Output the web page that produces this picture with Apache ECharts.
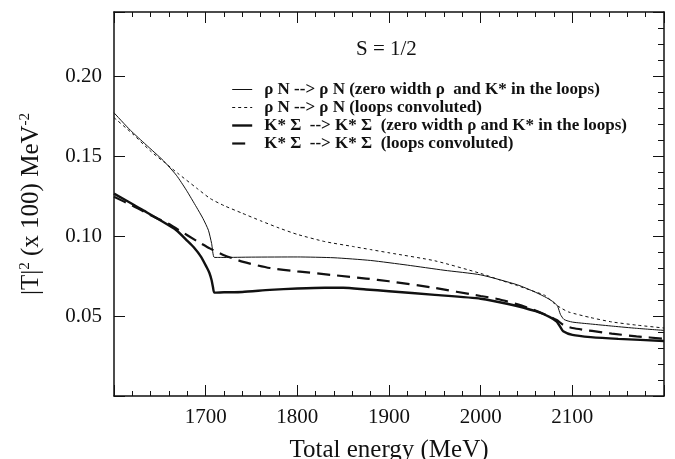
<!DOCTYPE html>
<html>
<head>
<meta charset="utf-8">
<script src="https://cdn.jsdelivr.net/npm/echarts@6/dist/echarts.min.js"></script>
<style>
html, body { margin: 0; padding: 0; background: #fff; }
#chart { width: 675px; height: 459px; }
</style>
</head>
<body>
<div id="chart"></div>
<script>
// rho N --> rho N, zero width
var rhoZeroE = [1600, 1618, 1635, 1654, 1668, 1679, 1690, 1697, 1703, 1706.5, 1709.5, 1720, 1750, 1800, 1840, 1880, 1920, 1960, 2000, 2040, 2060, 2072, 2080, 2084, 2087, 2091, 2100, 2120, 2145, 2170, 2200];
var rhoZeroV = [0.177, 0.166, 0.157, 0.147, 0.138, 0.1286, 0.118, 0.111, 0.1036, 0.0953, 0.0866, 0.0866, 0.0868, 0.0869, 0.0864, 0.0847, 0.0818, 0.0786, 0.0757, 0.0695, 0.0648, 0.0614, 0.0585, 0.0560, 0.0510, 0.0478, 0.0462, 0.0450, 0.0436, 0.0423, 0.0410];

// rho N --> rho N, loops convoluted
var rhoConvE = [1600, 1620, 1640, 1655, 1670, 1690, 1705, 1720, 1740, 1760, 1780, 1800, 1830, 1860, 1880, 1900, 1950, 2000, 2020, 2040, 2060, 2070, 2080, 2087, 2096, 2120, 2143, 2170, 2200];
var rhoConvV = [0.174, 0.164, 0.153, 0.146, 0.139, 0.130, 0.1234, 0.119, 0.1142, 0.1095, 0.105, 0.101, 0.0965, 0.0935, 0.0915, 0.0895, 0.0845, 0.0766, 0.0727, 0.069, 0.065, 0.0629, 0.058, 0.0552, 0.0525, 0.049, 0.0463, 0.0443, 0.0425];

// K* Sigma --> K* Sigma, zero width
var ksZeroE = [1600, 1620, 1632, 1650, 1668, 1680, 1687, 1695, 1701, 1704, 1706.5, 1708, 1709.5, 1720, 1740, 1770, 1800, 1830, 1850, 1875, 1900, 1950, 2000, 2030, 2060, 2075, 2083, 2087, 2090, 2100, 2120, 2150, 2200];
var ksZeroV = [0.1265, 0.120, 0.116, 0.110, 0.1036, 0.097, 0.093, 0.087, 0.0806, 0.077, 0.0723, 0.068, 0.0646, 0.0648, 0.065, 0.0663, 0.0672, 0.0677, 0.0677, 0.0666, 0.0655, 0.0632, 0.0608, 0.0575, 0.0530, 0.0495, 0.0465, 0.0430, 0.0405, 0.0382, 0.0368, 0.0357, 0.0344];

// K* Sigma --> K* Sigma, loops convoluted
var ksConvE = [1600, 1620, 1640, 1660, 1670, 1690, 1705, 1720, 1741, 1770, 1800, 1840, 1875, 1900, 1947, 2000, 2020, 2050, 2070, 2083, 2090, 2100, 2143, 2170, 2200];
var ksConvV = [0.1245, 0.119, 0.113, 0.1075, 0.104, 0.097, 0.0921, 0.088, 0.0838, 0.080, 0.0779, 0.0755, 0.0734, 0.0717, 0.0678, 0.0625, 0.0605, 0.0555, 0.051, 0.0475, 0.0445, 0.0425, 0.039, 0.0373, 0.0358];

var seriesNames = [
  'ρ N --> ρ N (zero width ρ  and K* in the loops)',
  'ρ N --> ρ N (loops convoluted)',
  'K* Σ  --> K* Σ  (zero width ρ and K* in the loops)',
  'K* Σ  --> K* Σ  (loops convoluted)'
];
var lineWidths = [1, 1, 2.4, 2.2];
var lineTypes = ['solid', [3, 3], 'solid', [13, 7]];
var xTicks = [1700, 1800, 1900, 2000, 2100];
var yTicks = [0.05, 0.10, 0.15, 0.20];

function pairs(xs, ys) {
  var out = [];
  for (var i = 0; i < xs.length; i++) out.push([xs[i], ys[i]]);
  return out;
}

var serif = 'Liberation Serif';
var black = '#111';

function mkSeries(i, xs, ys) {
  return {
    name: seriesNames[i],
    type: 'line',
    data: pairs(xs, ys),
    symbol: 'none',
    smooth: 0.2,
    xAxisIndex: 0,
    yAxisIndex: 0,
    lineStyle: { color: black, width: lineWidths[i], type: lineTypes[i] },
    itemStyle: { color: black }
  };
}

var legendData = [];
for (var i = 0; i < seriesNames.length; i++) {
  legendData.push({
    name: seriesNames[i],
    lineStyle: { color: black, width: lineWidths[i], type: lineTypes[i] }
  });
}

var chart = echarts.init(document.getElementById('chart'));
var option = {
  animation: false,
  backgroundColor: '#fff',
  grid: { left: 114, right: 11, top: 12, bottom: 63, outerBoundsMode: 'none', containLabel: false },
  title: {
    text: 'S = 1/2',
    left: 351,
    top: 34,
    textStyle: { fontFamily: serif, fontSize: 21, fontWeight: 'normal', color: black }
  },
  legend: {
    orient: 'vertical',
    left: 231,
    top: 81,
    padding: 0,
    itemWidth: 20,
    itemHeight: 12,
    itemGap: 1,
    data: legendData,
    itemStyle: { opacity: 0 },
    textStyle: { fontFamily: serif, fontSize: 17, fontWeight: 'bold', color: black, padding: [0, 0, 0, 7] }
  },
  xAxis: [
    {
      type: 'value', min: 1600, max: 2200, interval: 100,
      axisLine: { onZero: false, lineStyle: { color: black, width: 1.5 } },
      axisTick: { inside: true, length: 11, lineStyle: { color: black } },
      minorTick: { show: true, splitNumber: 5, length: 5, lineStyle: { color: black } },
      splitLine: { show: false },
      axisLabel: {
        margin: 11, fontFamily: serif, fontSize: 21, color: black,
        formatter: function (v) { return xTicks.indexOf(v) >= 0 ? String(v) : ''; }
      },
      name: 'Total energy (MeV)',
      nameLocation: 'middle',
      nameGap: 42,
      nameTextStyle: { fontFamily: serif, fontSize: 25, color: black }
    },
    {
      type: 'value', min: 1600, max: 2200, interval: 100, position: 'top',
      axisLine: { onZero: false, lineStyle: { color: black, width: 1.5 } },
      axisTick: { inside: true, length: 11, lineStyle: { color: black } },
      minorTick: { show: true, splitNumber: 5, length: 5, lineStyle: { color: black } },
      splitLine: { show: false },
      axisLabel: { show: false }
    }
  ],
  yAxis: [
    {
      type: 'value', min: 0, max: 0.24, interval: 0.05,
      axisLine: { show: true, onZero: false, lineStyle: { color: black, width: 1.5 } },
      axisTick: { show: true, inside: true, length: 11, lineStyle: { color: black } },
      splitLine: { show: false },
      axisLabel: {
        margin: 12, fontFamily: serif, fontSize: 21, color: black,
        formatter: function (v) {
          for (var i = 0; i < yTicks.length; i++) {
            if (Math.abs(yTicks[i] - v) < 1e-9) return v.toFixed(2);
          }
          return '';
        }
      },
      name: '|T|{sup|2} (x 100) MeV{sup|-2}',
      nameLocation: 'middle',
      nameGap: 70,
      nameRotate: 90,
      nameTextStyle: {
        fontFamily: serif, fontSize: 25, color: black,
        rich: { sup: { fontFamily: serif, fontSize: 15, color: black, verticalAlign: 'top', padding: [0, 0, 11, 0] } }
      }
    },
    {
      type: 'value', min: 0, max: 0.24, interval: 0.01,
      axisLine: { show: false, onZero: false },
      axisTick: { show: true, inside: true, length: 6, lineStyle: { color: black } },
      splitLine: { show: false },
      axisLabel: { show: false }
    },
    {
      type: 'value', min: 0, max: 0.24, interval: 0.05, position: 'right',
      axisLine: { show: true, onZero: false, lineStyle: { color: black, width: 1.5 } },
      axisTick: { show: true, inside: true, length: 11, lineStyle: { color: black } },
      splitLine: { show: false },
      axisLabel: { show: false }
    },
    {
      type: 'value', min: 0, max: 0.24, interval: 0.01, position: 'right',
      axisLine: { show: false, onZero: false },
      axisTick: { show: true, inside: true, length: 6, lineStyle: { color: black } },
      splitLine: { show: false },
      axisLabel: { show: false }
    }
  ],
  series: [
    mkSeries(0, rhoZeroE, rhoZeroV),
    mkSeries(1, rhoConvE, rhoConvV),
    mkSeries(2, ksZeroE, ksZeroV),
    mkSeries(3, ksConvE, ksConvV)
  ]
};
chart.setOption(option);
</script>
</body>
</html>
